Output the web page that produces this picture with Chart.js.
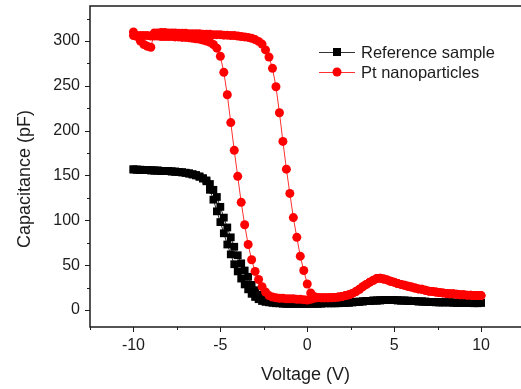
<!DOCTYPE html>
<html>
<head>
<meta charset="utf-8">
<script src="https://cdn.jsdelivr.net/npm/chart.js@4.4.1/dist/chart.umd.min.js"></script>
<style>
    html, body { margin: 0; padding: 0; background: #fff; }
    canvas { display: block; }
</style>
</head>
<body>
<canvas id="cv" width="521" height="389"></canvas>
<script>
// gate voltage, swept in 0.2 V steps
const volts = [
    -10, -9.8, -9.6, -9.4, -9.2, -9, -8.8, -8.6, -8.4, -8.2,
    -8, -7.8, -7.6, -7.4, -7.2, -7, -6.8, -6.6, -6.4, -6.2,
    -6, -5.8, -5.6, -5.4, -5.2, -5, -4.8, -4.6, -4.4, -4.2,
    -4, -3.8, -3.6, -3.4, -3.2, -3, -2.8, -2.6, -2.4, -2.2,
    -2, -1.8, -1.6, -1.4, -1.2, -1, -0.8, -0.6, -0.4, -0.2,
    0, 0.2, 0.4, 0.6, 0.8, 1, 1.2, 1.4, 1.6, 1.8,
    2, 2.2, 2.4, 2.6, 2.8, 3, 3.2, 3.4, 3.6, 3.8,
    4, 4.2, 4.4, 4.6, 4.8, 5, 5.2, 5.4, 5.6, 5.8,
    6, 6.2, 6.4, 6.6, 6.8, 7, 7.2, 7.4, 7.6, 7.8,
    8, 8.2, 8.4, 8.6, 8.8, 9, 9.2, 9.4, 9.6, 9.8,
    10
];

// Reference sample, -10 -> 10 sweep (pF)
const refUp = [
    156.5, 156.5, 156, 156, 156, 155.5, 155.5, 155.5, 155, 155,
    155, 154.5, 154.5, 154, 153.5, 153, 152.5, 151.5, 150.5, 149,
    147, 144.5, 140.5, 134, 126, 115, 103, 92, 81, 70.5,
    61, 52, 44, 37, 28, 22, 17, 13.5, 11, 9.5,
    8.5, 8, 7.5, 7.5, 7, 7, 7, 7, 7, 7,
    7, 7, 7, 7, 7.5, 7.5, 7.5, 7.5, 7.5, 8,
    8, 8, 8.5, 8.5, 9, 9.5, 9.5, 10, 10, 10.5,
    10.5, 10.5, 11, 11, 11, 11, 11, 10.5, 10.5, 10.5,
    10, 10, 9.5, 9.5, 9.5, 9, 9, 9, 8.5, 8.5,
    8.5, 8.5, 8.5, 8, 8, 8, 8, 8, 8, 8,
    8
];

// Reference sample, 10 -> -10 sweep (listed in rising voltage order)
const refDown = [
    157, 156.5, 156.5, 156, 156, 156, 155.5, 155.5, 155, 155,
    155, 154.5, 154, 154, 153.5, 153, 152, 151, 150, 148.5,
    146.5, 143.5, 134, 123, 110, 98, 85.5, 73, 62, 51,
    43, 35, 28.5, 23, 18, 14.5, 12, 10, 9, 8.5,
    8, 7.5, 7.5, 7, 7, 7, 7, 7, 7, 7,
    7, 7, 7, 7, 7, 7.5, 7.5, 7.5, 7.5, 7.5,
    8, 8, 8, 8.5, 9, 9, 9.5, 10, 10, 10.5,
    10.5, 11, 11, 11, 11, 11, 10.5, 10.5, 10.5, 10,
    10, 10, 9.5, 9.5, 9, 9, 9, 8.5, 8.5, 8.5,
    8.5, 8.5, 8, 8, 8, 8, 8, 8, 7.5, 7.5,
    8
];

// Pt nanoparticles, -10 -> 10 sweep
const ptUp = [
    310, 305, 300, 296, 294, 293, 309, 309, 309.5, 309.5,
    309, 309, 309, 308.5, 308.5, 308.5, 308, 308, 308, 308,
    307.5, 307.5, 307.5, 307, 307, 307, 306.5, 306.5, 306, 306,
    305.5, 305, 304.5, 304, 303, 301.5, 299.5, 296.5, 290, 282,
    269.5, 249, 220, 188, 157, 130, 103, 81, 60, 44,
    29, 19, 15, 14, 13.5, 13.5, 13.5, 13.5, 14, 14.5,
    15, 16, 17, 18.5, 20.5, 23, 26, 28.5, 31, 33,
    35, 35.5, 34.5, 33.5, 32, 31, 29.5, 28.5, 27.5, 26.5,
    25.5, 24.5, 23.5, 23, 22, 21, 20.5, 20, 19.5, 19,
    18.5, 18, 18, 17.5, 17, 17, 16.5, 16.5, 16, 16,
    16
];

// Pt nanoparticles, 10 -> -10 sweep (listed in rising voltage order)
const ptDown = [
    306, 306, 306, 306, 306, 305.5, 305.5, 305.5, 305, 305,
    305, 305, 304.5, 304.5, 304, 304, 303.5, 303, 302.5, 302,
    301, 300, 298.5, 296, 292, 283, 265, 240, 209, 178,
    149, 120, 95, 73, 56, 43, 34, 26, 20, 16,
    14.5, 13.5, 13, 13, 12.5, 12.5, 12.5, 12, 12, 11.5,
    11, 12, 13, 13.5, 13.5, 13.5, 13.5, 14, 14, 14.5,
    15, 16, 17, 18.5, 20.5, 23, 26, 28.5, 31, 33,
    35, 35.5, 34.5, 33.5, 32, 31, 29.5, 28.5, 27.5, 26.5,
    25.5, 24.5, 23.5, 23, 22, 21, 20.5, 20, 19.5, 19,
    18.5, 18, 18, 17.5, 17, 17, 16.5, 16.5, 16, 16,
    16
];

const xTicks = [-10, -5, 0, 5, 10];
const xMinor = [-12.5, -7.5, -2.5, 2.5, 7.5];
const yTicks = [0, 50, 100, 150, 200, 250, 300];
const yMinor = [25, 75, 125, 175, 225, 275, 325];

const FONT = 'Liberation Sans, Arial, sans-serif';
const INK = '#1c1c1c';

// one loop: up sweep, then back down
function loop(up, down){
    let pts = volts.map((v, i) => ({x: v, y: up[i]}));
    for (let i = volts.length - 1; i >= 0; i--) {
        pts.push({x: volts[i], y: down[i]});
    }
    return pts;
}

const extras = {
    id: 'extras',
    afterDraw(chart){
        const {ctx, chartArea: a, scales: {x, y}} = chart;
        ctx.save();

        // frame (right side runs off the picture)
        ctx.strokeStyle = INK;
        ctx.lineWidth = 1.5;
        ctx.beginPath();
        ctx.moveTo(a.right + 4, a.top);
        ctx.lineTo(a.left, a.top);
        ctx.lineTo(a.left, a.bottom);
        ctx.lineTo(a.right + 4, a.bottom);
        ctx.stroke();

        // tick marks, outward
        ctx.lineWidth = 1;
        ctx.beginPath();
        xTicks.forEach(v => { let px = Math.round(x.getPixelForValue(v)) + 0.5; ctx.moveTo(px, a.bottom); ctx.lineTo(px, a.bottom + 5); });
        xMinor.forEach(v => { let px = Math.round(x.getPixelForValue(v)) + 0.5; ctx.moveTo(px, a.bottom); ctx.lineTo(px, a.bottom + 3); });
        yTicks.forEach(v => { let py = Math.round(y.getPixelForValue(v)) + 0.5; ctx.moveTo(a.left, py); ctx.lineTo(a.left - 5, py); });
        yMinor.forEach(v => { let py = Math.round(y.getPixelForValue(v)) + 0.5; ctx.moveTo(a.left, py); ctx.lineTo(a.left - 3, py); });
        ctx.stroke();

        // y title
        ctx.fillStyle = INK;
        ctx.font = '18px ' + FONT;
        ctx.textAlign = 'center';
        ctx.textBaseline = 'middle';
        ctx.translate(25, 179);
        ctx.rotate(-Math.PI / 2);
        ctx.fillText('Capacitance (pF)', 0, 0);
        ctx.setTransform(1, 0, 0, 1, 0, 0);

        // legend
        ctx.font = '16.5px ' + FONT;
        ctx.textAlign = 'left';
        chart.data.datasets.forEach((ds, i) => {
            let ly = 52 + i * 20;
            ctx.strokeStyle = ds.borderColor;
            ctx.lineWidth = 1;
            ctx.beginPath();
            ctx.moveTo(319, ly + 0.5);
            ctx.lineTo(355, ly + 0.5);
            ctx.stroke();
            ctx.fillStyle = ds.pointBackgroundColor;
            if (ds.pointStyle === 'rect') {
                ctx.fillRect(333, ly - 4, 8, 8);
            } else {
                ctx.beginPath();
                ctx.arc(337, ly, 4.5, 0, Math.PI * 2);
                ctx.fill();
            }
            ctx.fillStyle = INK;
            ctx.fillText(ds.label, 361, ly + 1);
        });
        ctx.restore();
    }
};

new Chart(document.getElementById('cv'), {
    type: 'line',
    data: {
        datasets: [
            {
                label: 'Reference sample',
                data: loop(refUp, refDown),
                borderColor: '#333333',
                borderWidth: 1,
                pointStyle: 'rect',
                pointRadius: 5.5,
                pointBorderWidth: 0,
                pointBackgroundColor: '#000000',
                order: 2
            },
            {
                label: 'Pt nanoparticles',
                data: loop(ptUp, ptDown),
                borderColor: '#ff3030',
                borderWidth: 1,
                pointStyle: 'circle',
                pointRadius: 4.5,
                pointBorderWidth: 0,
                pointBackgroundColor: '#ff0000',
                order: 1
            }
        ]
    },
    options: {
        responsive: false,
        animation: false,
        layout: {autoPadding: false, padding: {top: 6, right: 0, bottom: 0, left: 0}},
        plugins: {
            legend: {display: false},
            tooltip: {enabled: false}
        },
        scales: {
            x: {
                type: 'linear',
                min: -12.5,
                max: 12.3,
                grid: {display: false, drawTicks: false},
                border: {display: false},
                afterFit: s => { s.height = 62; s.paddingLeft = 0; s.paddingRight = 0; },
                afterBuildTicks: s => { s.ticks = xTicks.map(v => ({value: v})); },
                ticks: {font: {family: FONT, size: 16}, color: INK, padding: 9, maxRotation: 0},
                title: {display: true, text: 'Voltage (V)', color: INK, font: {family: FONT, size: 18}, padding: {top: 0, bottom: 3}}
            },
            y: {
                min: -19,
                max: 339,
                grid: {display: false, drawTicks: false},
                border: {display: false},
                afterFit: s => { s.width = 90; s.paddingTop = 0; s.paddingBottom = 0; },
                afterBuildTicks: s => { s.ticks = yTicks.map(v => ({value: v})); },
                ticks: {font: {family: FONT, size: 16}, color: INK, padding: 10}
            }
        }
    },
    plugins: [extras]
});
</script>
</body>
</html>
